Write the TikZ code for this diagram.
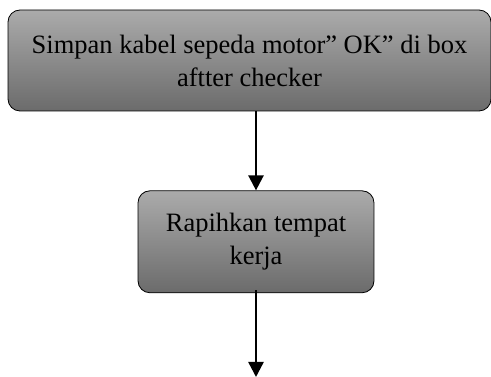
\documentclass[tikz,border=0pt]{standalone}
\usepackage{fontspec}
\setmainfont{Liberation Serif}
\usetikzlibrary{positioning,arrows.meta}
\tikzstyle{arrow} = [line width=2.4pt,-{Triangle[width=15pt,length=15pt]}]
\tikzstyle{stepbox} = [draw, line width=0.8pt, rounded corners=12pt, top color=black!33, bottom color=black!58, align=center, font=\fontsize{26.5}{33}\selectfont, inner sep=0pt]

\begin{document}
\begin{tikzpicture}[x=1pt,y=1pt]
    \useasboundingbox (0,0) rectangle (491,377);

    \node (simpan) [stepbox, minimum width=483pt, minimum height=101pt] at (249.5,316.5) {Simpan kabel sepeda motor” OK” di box\\aftter checker};

    \node (rapih) [stepbox, minimum width=236pt, minimum height=102pt, below=79pt of simpan.south, anchor=north, xshift=6.5pt] {Rapihkan tempat\\kerja};
    \draw [arrow] (rapih.north |- simpan.south) -- (rapih.north);

    \coordinate (next) at (rapih.south |- 0,0);
    \draw [arrow] ([yshift=3pt]rapih.south) -- (next);

  \end{tikzpicture}
\end{document}
